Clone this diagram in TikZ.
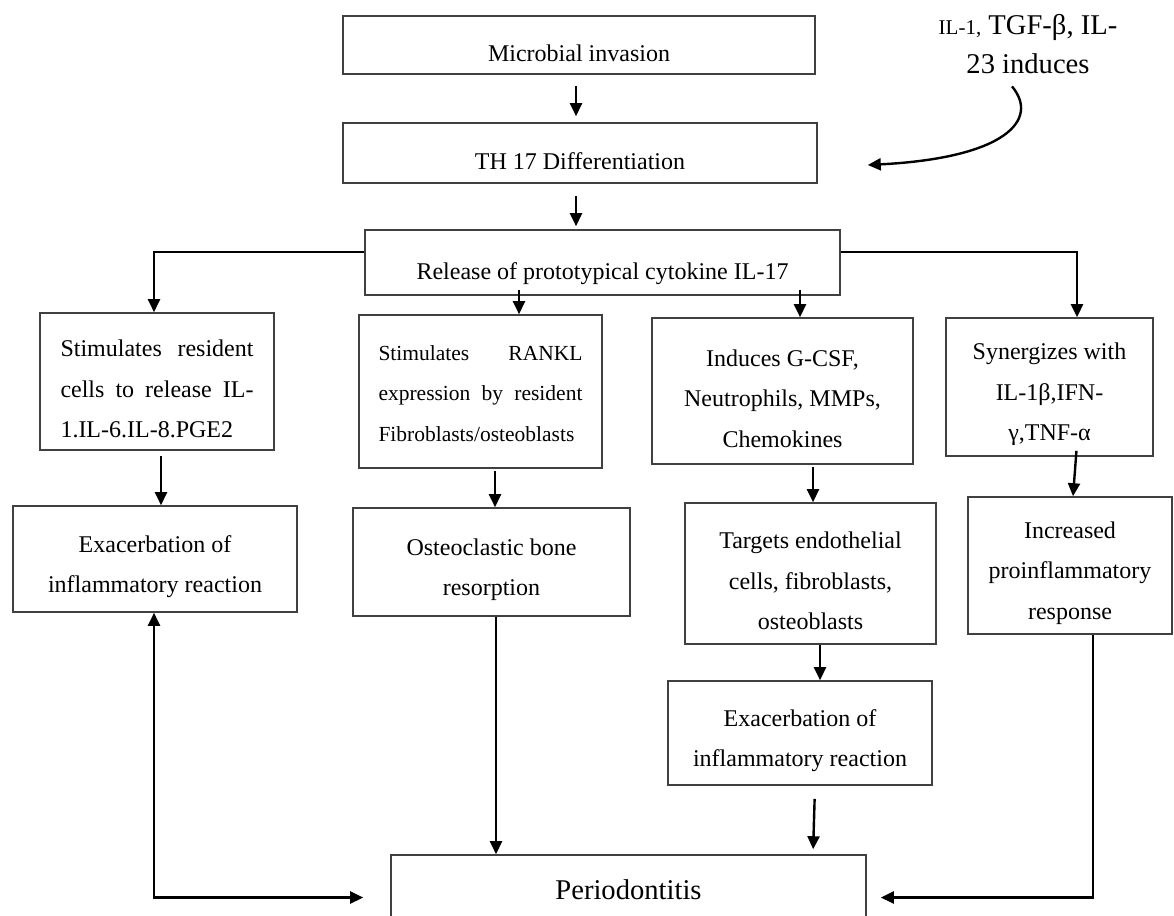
\documentclass[tikz,border=0pt]{standalone}
\usepackage{fontspec}
\setmainfont{Liberation Serif}
\usetikzlibrary{arrows.meta}
\newcommand{\topgap}{\rule{0pt}{32pt}}

\begin{document}
\begin{tikzpicture}[
  x=1pt, y=-1pt,
  box/.style={rectangle, draw=black!75, line width=1.6pt, inner sep=0pt, align=center, font=\fontsize{24}{40.5}\selectfont},
  oneline/.style={box, text height=33pt, text depth=0pt},
  arr/.style={-{Triangle[length=13pt,width=12pt]}, line width=2.4pt},
  twoway/.style={{Triangle[length=13pt,width=12pt]}-{Triangle[length=13pt,width=12pt]}, line width=2.4pt}
]
\useasboundingbox (0,0) rectangle (1174,915);
\fill[white] (0,0) rectangle (1174,915);

\node[oneline, minimum width=472pt, minimum height=58pt] (microbe) at (579,45) {Microbial invasion};
\node[oneline, minimum width=474pt, minimum height=60pt] (th_diff) at (580,153) {TH 17 Differentiation};
\node[oneline, minimum width=475pt, minimum height=65pt] (release) at (602.5,262.5) {Release of prototypical cytokine IL-17};
\node[inner sep=0pt, align=center, font=\fontsize{28.6}{39}\selectfont] (cyto_note) at (1028,44) {{\fontsize{21}{39}\selectfont IL-1,} TGF-β, IL-\\23 induces};

\node[box, minimum width=234pt, minimum height=137pt, text width=193pt, align=justify] (stim_cells) at (157,381.5) {\topgap Stimulates resident\linebreak cells to release IL-\linebreak 1.IL-6.IL-8.PGE2};
\node[box, minimum width=243pt, minimum height=153pt, text width=204pt, align=justify, font=\fontsize{21.5}{40.5}\selectfont] (rankl) at (480.5,391.5) {\rule{0pt}{19pt}Stimulates RANKL\linebreak expression by resident\linebreak Fibroblasts/osteoblasts};
\node[box, minimum width=261pt, minimum height=146pt] (gcsf) at (782.5,391) {\topgap Induces G-CSF,\\Neutrophils, MMPs,\\Chemokines};
\node[box, minimum width=207pt, minimum height=138pt] (synerg) at (1049.5,387) {\topgap Synergizes with\\IL-1β,IFN-\\γ,TNF-α};

\node[box, minimum width=284pt, minimum height=106pt] (exac_l) at (155,559) {\topgap Exacerbation of\\inflammatory reaction};
\node[box, minimum width=277pt, minimum height=108pt] (osteo) at (491.5,562) {\topgap Osteoclastic bone\\resorption};
\node[box, minimum width=251pt, minimum height=141pt] (targets) at (810.5,573.5) {\topgap Targets endothelial\\cells, fibroblasts,\\osteoblasts};
\node[box, minimum width=204pt, minimum height=137pt] (incr) at (1070,565.5) {\topgap Increased\\proinflammatory\\response};
\node[box, minimum width=264pt, minimum height=104pt] (exac_r) at (800,733) {\topgap Exacerbation of\\inflammatory reaction};

\node[box, minimum width=475pt, minimum height=85pt, font=\fontsize{28.6}{39}\selectfont, text depth=15pt] (perio) at (628.5,897.5) {Periodontitis};

% main chain
\draw[arr, shorten <=11pt, shorten >=6pt] ([xshift=-3pt]microbe.south) -- ([xshift=-3pt]microbe.south |- th_diff.north);
\draw[arr, shorten <=12pt, shorten >=3pt] ([xshift=-4pt]th_diff.south) -- ([xshift=-4pt]th_diff.south |- release.north);
\draw[arr] ([xshift=-16pt,yshift=-12.5pt]cyto_note.south) .. controls (1040,120) and (1005,158) .. ([xshift=50pt,yshift=-12pt]th_diff.east);

% IL-17 branches
\draw[arr] ([yshift=10.5pt]release.west) -| ([xshift=-3pt]stim_cells.north);
\draw[arr] ([yshift=10.5pt]release.east) -| ([xshift=27.5pt]synerg.north);
\draw[arr, shorten <=-6pt] ([xshift=-83.5pt]release.south) -- ([xshift=-83.5pt]release.south |- rankl.north);
\draw[arr, shorten <=-6pt] ([xshift=197.5pt]release.south) -- ([xshift=197.5pt]release.south |- gcsf.north);

\draw[arr, shorten <=5pt] ([xshift=4pt]stim_cells.south) -- ([xshift=4pt]stim_cells.south |- exac_l.north);
\draw[arr, shorten <=2pt] ([xshift=14.5pt]rankl.south) -- ([xshift=14.5pt]rankl.south |- osteo.north);
\draw[arr, shorten <=2pt] ([xshift=30.5pt]gcsf.south) -- ([xshift=30.5pt]gcsf.south |- targets.north);
\draw[arr, shorten <=-6pt] ([xshift=26.5pt]synerg.south) -- ([xshift=3pt]incr.north);
\draw[arr] ([xshift=9.5pt]targets.south) -- ([xshift=9.5pt]targets.south |- exac_r.north);

% into periodontitis
\draw[arr] ([xshift=4.5pt]osteo.south) -- ([xshift=4.5pt]osteo.south |- perio.north);
\draw[arr, shorten <=13pt, shorten >=5pt] ([xshift=15pt]exac_r.south) -- ([xshift=184.5pt]perio.north);
\draw[twoway, shorten >=27pt] ([xshift=-1pt]exac_l.south) |- (perio.west);
\draw[arr, shorten >=14pt] ([xshift=23pt]incr.south) |- (perio.east);
\end{tikzpicture}
\end{document}
